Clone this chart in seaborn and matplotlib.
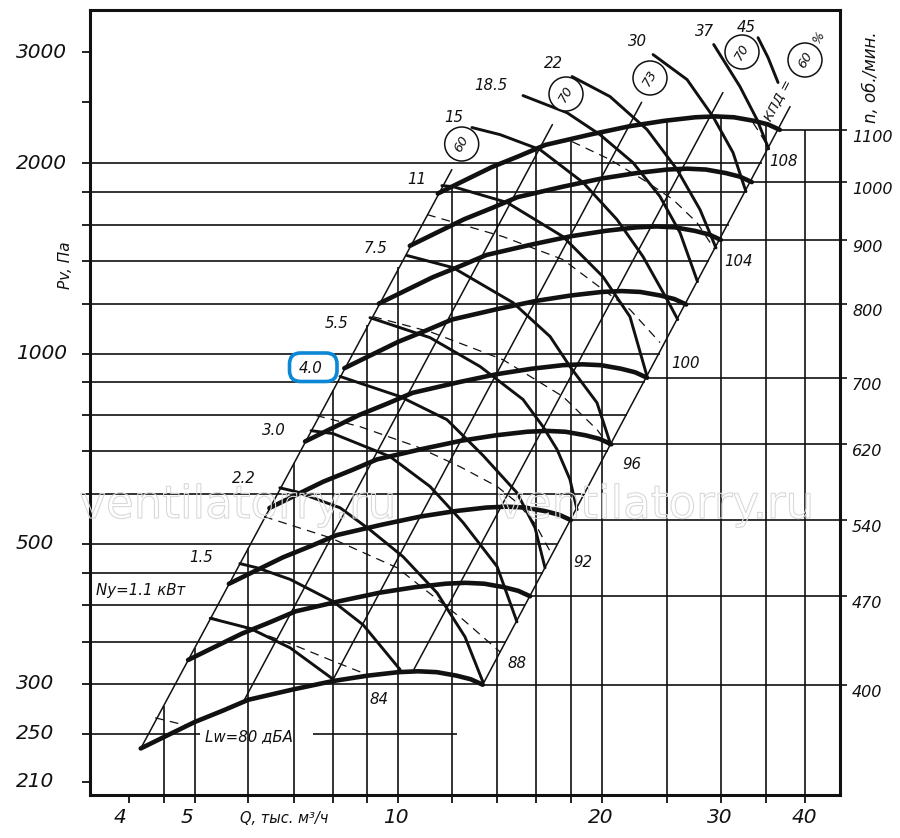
import numpy as np
import pandas as pd
import matplotlib
matplotlib.use("Agg")
import matplotlib.pyplot as plt
import seaborn as sns
from matplotlib.patches import Circle, FancyBboxPatch
import matplotlib.patheffects as pe

# ---------------- data (Q in thousand m3/h, Pv in Pa) ----------------
base_rpm = 400
base_q = [4.16, 4.50, 5.0, 5.5, 6.0, 7.0, 8.0, 9.0, 10.0, 10.7, 11.4, 12.2, 12.8, 13.33]
base_p = [237, 247, 261, 272, 283, 294, 303, 309, 313, 314, 313, 309, 305, 299]
rpm_values = [400, 470, 540, 620, 700, 800, 900, 1000, 1100]

# power curves Ny, kW
pq_1_1 = [5.27, 6.04, 6.92, 8.01]
pp_1_1 = [381, 367, 342, 305]
pq_1_5 = [5.83, 6.18, 6.92, 8.01, 8.87, 10.06]
pp_1_5 = [465, 458, 439, 405, 372, 316]
pq_2_2 = [6.68, 7.08, 8.20, 9.08, 10.16, 11.41, 12.55, 13.34]
pp_2_2 = [613, 604, 570, 526, 477, 418, 356, 302]
pq_3_0 = [7.43, 8.01, 9.72, 11.14, 12.47, 14.00, 14.98]
pp_3_0 = [755, 747, 687, 616, 540, 460, 376]
pq_4_0 = [8.20, 10.06, 11.80, 13.34, 14.98, 15.93, 16.48]
pp_4_0 = [920, 855, 786, 690, 602, 530, 458]
pq_5_5 = [9.08, 11.14, 13.21, 15.29, 16.37, 17.17, 17.94, 18.38]
pp_5_5 = [1140, 1060, 954, 846, 766, 705, 632, 566]
pq_7_5 = [10.30, 12.05, 14.78, 16.77, 17.94, 19.67, 20.61]
pp_7_5 = [1430, 1368, 1204, 1064, 954, 836, 718]
pq_11 = [11.60, 12.05, 14.48, 17.52, 20.07, 22.01, 23.33]
pp_11 = [1845, 1838, 1735, 1532, 1324, 1144, 920]
pq_15 = [12.85, 14.14, 16.20, 18.76, 21.06, 23.01, 24.97, 25.9]
pp_15 = [2280, 2222, 2104, 1866, 1630, 1424, 1218, 1132]
pq_18_5 = [15.29, 17.76, 19.87, 22.24, 24.38, 26.10, 27.7]
pp_18_5 = [2562, 2407, 2222, 2006, 1773, 1554, 1300]
pq_22 = [18.07, 20.56, 23.33, 25.84, 27.94, 29.50]
pp_22 = [2746, 2553, 2263, 1956, 1690, 1470]
pq_30 = [23.81, 26.73, 29.20, 31.26, 32.67]
pp_30 = [2975, 2716, 2373, 2081, 1805]
pq_37 = [29.27, 32.01, 33.92, 35.3]
pp_37 = [3086, 2647, 2347, 2110]
pq_45 = [34.04, 35.22, 36.44]
pp_45 = [3164, 2943, 2687]
power_labels = ["1.1", "1.5", "2.2", "3.0", "4.0", "5.5", "7.5", "11", "15",
                "18.5", "22", "30", "37", "45"]
power_q = [pq_1_1, pq_1_5, pq_2_2, pq_3_0, pq_4_0, pq_5_5, pq_7_5, pq_11, pq_15,
           pq_18_5, pq_22, pq_30, pq_37, pq_45]
power_p = [pp_1_1, pp_1_5, pp_2_2, pp_3_0, pp_4_0, pp_5_5, pp_7_5, pp_11, pp_15,
           pp_18_5, pp_22, pp_30, pp_37, pp_45]

# sound power level curves Lw, dBA (dashed)
nq_80 = [4.37, 4.84]
np_80 = [265, 258]
nq_84 = [5.29, 6.04, 7.08, 8.06, 8.87]
np_84 = [382, 366, 344, 325, 312]
nq_88 = [6.33, 7.93, 9.96, 12.47, 14.14]
np_88 = [552, 511, 458, 379, 337]
nq_92 = [7.56, 8.78, 10.66, 12.34, 14.00, 14.98, 15.93, 16.88]
np_92 = [798, 766, 712, 662, 616, 581, 538, 480]
nq_96 = [9.18, 11.14, 14.28, 17.52, 19.67, 20.56]
np_96 = [1144, 1083, 978, 855, 758, 712]
nq_100 = [11.03, 14.28, 17.52, 20.07, 22.01, 24.38]
np_100 = [1660, 1532, 1409, 1263, 1174, 1041]
nq_104 = [18.07, 20.56, 23.01, 25.48, 27.65, 29.33]
np_104 = [2166, 2029, 1886, 1754, 1612, 1465]
nq_108 = [33.46, 34.2, 35.22]
np_108 = [2322, 2239, 2127]
noise_labels = ["80", "84", "88", "92", "96", "100", "104", "108"]
noise_q = [nq_80, nq_84, nq_88, nq_92, nq_96, nq_100, nq_104, nq_108]
noise_p = [np_80, np_84, np_88, np_92, np_96, np_100, np_104, np_108]

# efficiency lines (KPD), lower and upper ends
eff_labels = ["60", "70", "73", "70", "60"]
eff_q_lo = [4.16, 5.90, 8.00, 10.51, 13.33]
eff_p_lo = [237, 281, 304, 314, 299]
eff_q_hi = [12.0, 16.9, 22.9, 30.2, 37.96]
eff_p_hi = [1956, 2305, 2500, 2590, 2461]

# grid
hgrid_p = [300, 350, 400, 450, 500, 600, 700, 800, 900, 1000, 1200, 1400, 1600, 1800, 2000]
hgrid_q_end = [13.33, 14.42, 15.42, 16.35, 17.24, 18.88, 20.40, 21.80, 23.13, 24.38,
               26.70, 28.84, 30.84, 32.71, 34.48]
vgrid_q = [4.5, 5, 6, 7, 8, 9, 10, 12, 14, 16, 18, 20, 25, 30, 35, 40]
vgrid_p_top = [277, 342, 493, 671, 877, 1110, 1370, 1838, 1989, 2110, 2182, 2236,
               2333, 2367, 2301, 2261]
lw80_p = 250
lw80_segments_q = [(3.5, 5.09), (7.48, 12.21)]

x_ticks = [4, 4.5, 5, 6, 7, 8, 9, 10, 12, 14, 16, 18, 20, 25, 30, 35, 40]
x_labels = ["4", "5", "10", "20", "30", "40"]
x_label_vals = [4, 5, 10, 20, 30, 40]
y_ticks = [210, 250, 300, 350, 400, 450, 500, 600, 700, 800, 900, 1000, 1200,
           1400, 1600, 1800, 2000, 2500, 3000]
y_label_vals = [210, 250, 300, 500, 1000, 2000, 3000]

# ---------------- figure ----------------
sns.set_theme(style="white")
plt.rcParams["font.family"] = ["DejaVu Sans"]
INK = "#111111"

W, H = 900, 838
fig = plt.figure(figsize=(W / 100, H / 100), dpi=100)
L, R, T, B = 90, 840, 10, 795
ax = fig.add_axes([L / W, 1 - B / H, (R - L) / W, (B - T) / H])
ax.set_xscale("log")
ax.set_yscale("log")
ax.set_xlim(3.5, 45)
ax.set_ylim(200, 3500)

# horizontal grid lines
for p, qe in zip(hgrid_p, hgrid_q_end):
    ax.plot([3.5, qe], [p, p], color=INK, lw=1.2, zorder=2, solid_capstyle="butt")
for q0, q1 in lw80_segments_q:
    ax.plot([q0, q1], [lw80_p, lw80_p], color=INK, lw=1.2, zorder=2, solid_capstyle="butt")
# vertical grid lines
for q, pt in zip(vgrid_q, vgrid_p_top):
    ax.plot([q, q], [200, pt], color=INK, lw=1.2, zorder=2, solid_capstyle="butt")
# efficiency lines
for ql, pl, qh, ph in zip(eff_q_lo, eff_p_lo, eff_q_hi, eff_p_hi):
    ax.plot([ql, qh], [pl, ph], color=INK, lw=1.1, zorder=3)
# rpm reference lines to the right scale
for n in rpm_values:
    k = n / base_rpm
    ax.plot([base_q[-1] * k, 46.1], [base_p[-1] * k * k] * 2, color=INK, lw=1.2,
            zorder=2, clip_on=False, solid_capstyle="butt")

# sound level dashed curves
for q, p in zip(noise_q, noise_p):
    ax.plot(q, p, color=INK, lw=0.9, dashes=(7, 5), zorder=4)

# power curves
pw_df = pd.DataFrame([(qq, pp, lab) for lab, qs, ps in zip(power_labels, power_q, power_p)
                      for qq, pp in zip(qs, ps)], columns=["Q", "P", "Ny"])
sns.lineplot(data=pw_df, x="Q", y="P", units="Ny", estimator=None, sort=False,
             color=INK, lw=2.1, ax=ax, zorder=5, legend=False)

# fan curves (fan laws: Q ~ n, P ~ n^2)
fan_df = pd.DataFrame([(q * n / base_rpm, p * (n / base_rpm) ** 2, n)
                       for n in rpm_values for q, p in zip(base_q, base_p)],
                      columns=["Q", "P", "rpm"])
sns.lineplot(data=fan_df, x="Q", y="P", units="rpm", estimator=None, sort=False,
             color=INK, lw=3.3, ax=ax, zorder=6, legend=False)

ax.set_xlabel("")
ax.set_ylabel("")
ax.set_xticks(x_ticks)
ax.set_xticklabels([])
ax.set_xticks([], minor=True)
ax.set_yticks(y_ticks)
ax.set_yticklabels([])
ax.set_yticks([], minor=True)
ax.tick_params(axis="both", which="major", direction="out", length=5.5, width=1.3,
               color=INK, bottom=True, left=True, top=False, right=False)
for s in ax.spines.values():
    s.set_linewidth(2.2)
    s.set_color(INK)
    s.set_zorder(7)

# tick labels
x_off = {"4": -9, "5": -8, "10": -3, "20": -1.5, "30": -1, "40": -1.5}
for v, lab in zip(x_label_vals, x_labels):
    ax.annotate(lab, xy=(v, 0), xycoords=("data", "axes fraction"),
                xytext=(x_off[lab] * 0.72, -22 * 0.72), textcoords="offset points",
                ha="center", va="center", fontsize=14.5, style="italic", color=INK,
                annotation_clip=False)
for v in y_label_vals:
    ax.annotate(str(v), xy=(0, v), xycoords=("axes fraction", "data"),
                xytext=(-74 * 0.72, 0), textcoords="offset points",
                ha="left", va="center", fontsize=14.5, style="italic", color=INK,
                annotation_clip=False)
for n in rpm_values:
    k = n / base_rpm
    ax.annotate(str(n), xy=(1, base_p[-1] * k * k), xycoords=("axes fraction", "data"),
                xytext=(12 * 0.72, -7.5 * 0.72), textcoords="offset points",
                ha="left", va="center", fontsize=11.5, style="italic", color=INK,
                annotation_clip=False)

# ---------------- overlay for annotations (pixel space) ----------------
ov = fig.add_axes([0, 0, 1, 1], zorder=10)
ov.set_xlim(0, W)
ov.set_ylim(H, 0)
ov.axis("off")


def txt(x, y, s, size=10.5, **kw):
    kw.setdefault("ha", "center")
    kw.setdefault("va", "center")
    kw.setdefault("style", "italic")
    ov.text(x, y, s, fontsize=size, color=INK, **kw)


# watermark (hollow light-grey letters)
for cx in (238, 656):
    ov.text(cx, 518, "ventilatorry.ru", fontsize=32.5, ha="center", va="baseline",
            color=(1, 1, 1, 0), family="DejaVu Sans",
            path_effects=[pe.Stroke(linewidth=0.8, foreground="#d9d9d9")])

power_label_px = [(141, 590), (201, 557), (244, 478), (274, 430), (311, 368), (337, 323),
                  (375, 248), (417, 180), (454, 118), (491, 85), (553, 63), (637, 41),
                  (704, 31), (746, 27)]
box = FancyBboxPatch((289.5, 353), 47.5, 28.5, boxstyle="round,pad=0,rounding_size=11",
                     fc="white", ec="#0b87d6", lw=2.6, zorder=1)
ov.add_patch(box)
for lab, (x, y) in zip(power_labels, power_label_px):
    s = "Ny=1.1 кВт" if lab == "1.1" else lab
    txt(x, y, s, 10.8)

noise_label_px = [(249, 737), (379, 699), (517, 663), (583, 562), (632, 464), (686, 363),
                  (739, 261), (784, 161)]
for lab, (x, y) in zip(noise_labels, noise_label_px):
    s = "Lw=80 дБА" if lab == "80" else lab
    txt(x, y, s, 10.8)

circle_px = [(461.7, 144), (566, 94), (650, 78), (742, 52), (805, 60)]
for lab, (x, y) in zip(eff_labels, circle_px):
    ov.add_patch(Circle((x, y), 17, fc="white", ec=INK, lw=1.1, zorder=2))
    txt(x, y, lab, 9.5, rotation=60, zorder=3)
txt(819, 37, "%", 9, rotation=60)
txt(779, 100, "КПД =", 9.5, rotation=62)

txt(65, 265, "Pv, Па", 11, rotation=90)
txt(871, 77, "n, об./мин.", 12, rotation=90)
txt(284, 818, "Q, тыс. м³/ч", 10.5)

fig.savefig("out.png", dpi=100)
